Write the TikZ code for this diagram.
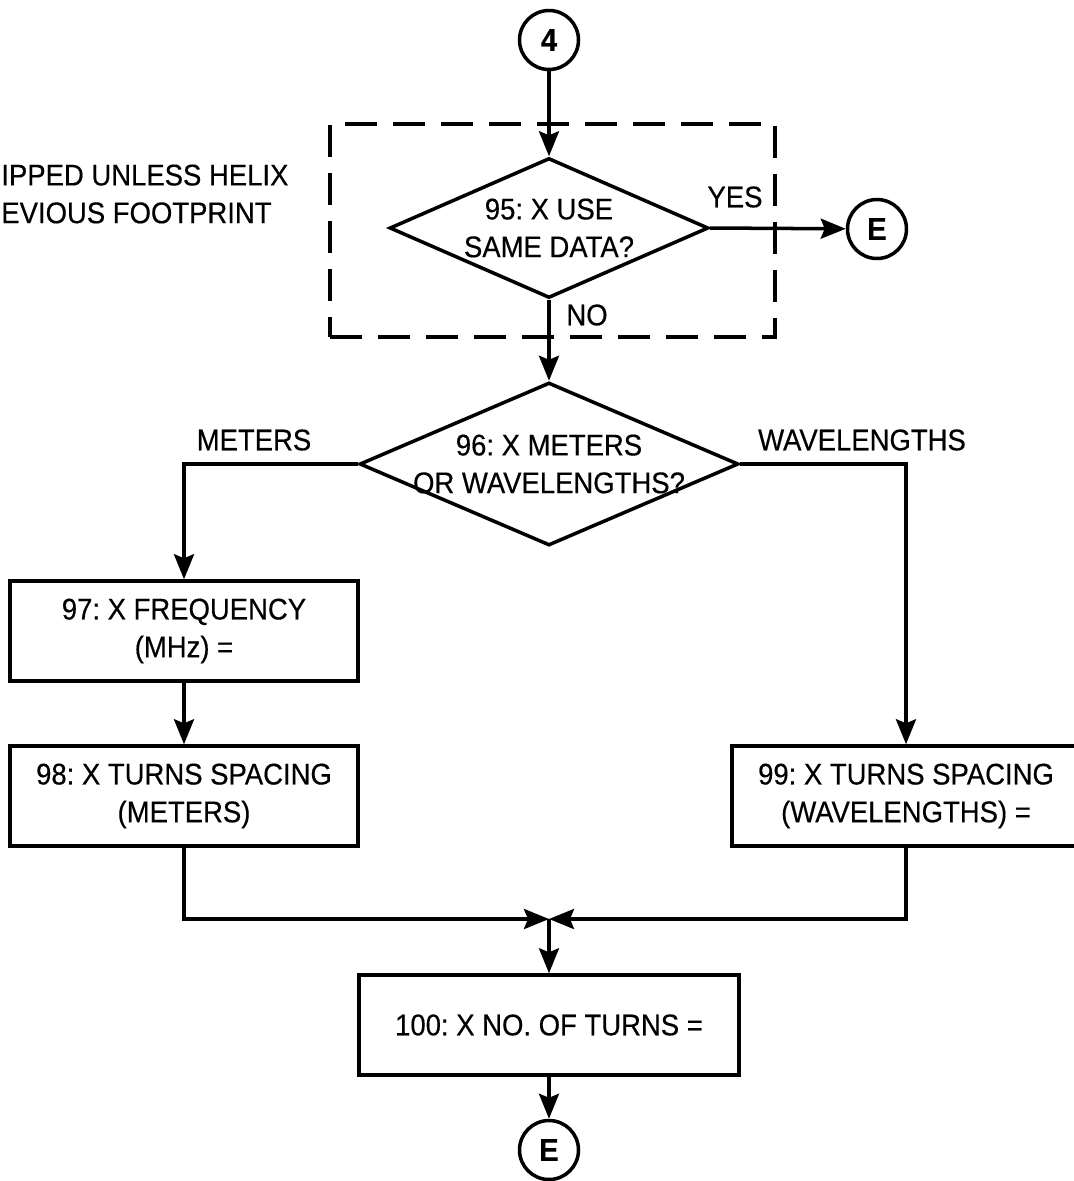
\documentclass[tikz,border=0pt]{standalone}
\usepackage{fontspec}
\setmainfont{Liberation Sans}[FakeStretch=0.92, FakeBold=0.4]
\usetikzlibrary{shapes.geometric, arrows.meta, positioning}

\begin{document}
\frenchspacing
\begin{tikzpicture}[
  x=0.02cm, y=-0.02cm,
  every node/.style={font=\fontsize{17}{21.5}\selectfont},
  process/.style={draw, line width=2pt, minimum width=6.96cm,
                  minimum height=2.0cm, align=center},
  decision/.style={draw, diamond, line width=2pt, inner sep=-8pt,
                   align=center},
  connector/.style={draw, circle, line width=2pt, inner sep=0pt,
                    minimum size=1.18cm, font=\fontsize{18}{20}\selectfont\bfseries},
  groupbox/.style={draw, line width=2pt, dash pattern=on 0.64cm off 0.32cm,
                   minimum width=8.9cm, minimum height=4.26cm},
  arrow/.style={-{Stealth[length=0.5cm, width=0.4cm, inset=0.08cm]}, line width=2pt},
  labelstyle/.style={inner sep=0pt}
]
\useasboundingbox (0,0) rectangle (1073,1181);

\node[align=left, anchor=west, inner sep=0pt] (note) at (1,194)
  {IPPED UNLESS HELIX\\EVIOUS FOOTPRINT};

\node[groupbox] (grp) at (552.5,230.5) {};

\node[connector] (c4) at (549,40) {4};
\node[decision, aspect=2.28, minimum width=6.38cm, minimum height=2.8cm] (d95) at (549,228)
  {95: X USE\\SAME DATA?};
\node[connector] (e1) at (877,229) {E};

\node[decision, aspect=2.33, minimum width=7.58cm, minimum height=3.26cm] (d96) at (549,464)
  {96: X METERS\\OR WAVELENGTHS?};

\node[process] (b97) at (184,631) {97: X FREQUENCY\\(MHz) =};
\node[process] (b98) at (184,796) {98: X TURNS SPACING\\(METERS)};
\node[process] (b99) at (906,796) {99: X TURNS SPACING\\(WAVELENGTHS) =};

\coordinate (join) at (549,919);
\node[process, minimum width=7.6cm] (b100) at (549,1025) {100: X NO. OF TURNS =};
\node[connector] (e2) at (549,1150) {E};

\draw[arrow] (c4) -- (d95);
\draw[arrow] (d95.east) -- (e1);
\node[labelstyle] (yes) at (735,197) {YES};
\draw[arrow] (d95.south) -- (d96.north);
\node[labelstyle] (no) at (587,315) {NO};

\draw[arrow] (d96.west) -| (b97.north);
\draw[arrow] (d96.east) -| (b99.north);
\node[labelstyle] (met) at (254,440) {METERS};
\node[labelstyle] (wav) at (862,440) {WAVELENGTHS};

\draw[arrow] (b97) -- (b98);
\draw[arrow] (b98.south) |- (join);
\draw[arrow] (b99.south) |- (join);
\draw[arrow] (join) -- (b100);
\draw[arrow] (b100) -- (e2);

\end{tikzpicture}
\end{document}
